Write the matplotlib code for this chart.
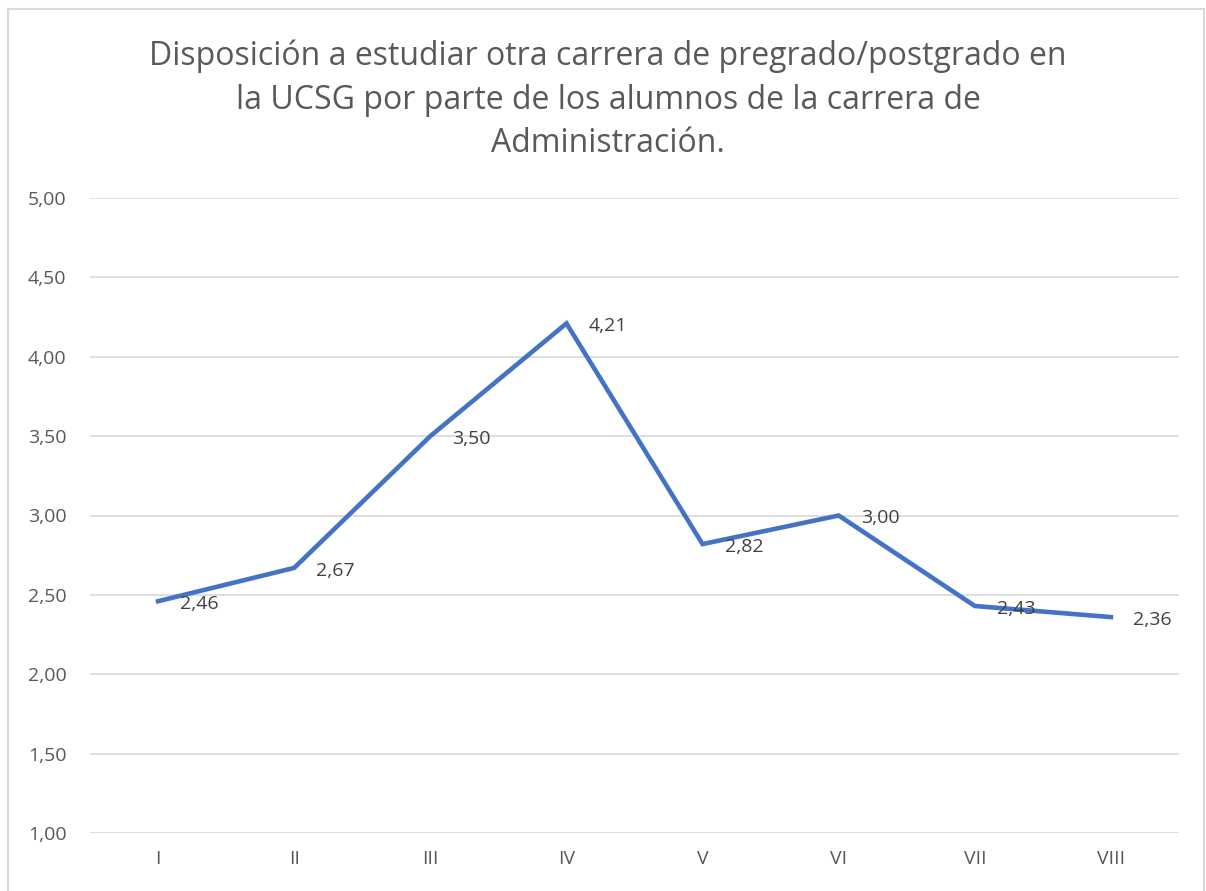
import matplotlib.pyplot as plt
from matplotlib.patches import Rectangle

semestres = ["I", "II", "III", "IV", "V", "VI", "VII", "VIII"]
disposicion = [2.46, 2.67, 3.50, 4.21, 2.82, 3.00, 2.43, 2.36]
ticks_y = [1.0, 1.5, 2.0, 2.5, 3.0, 3.5, 4.0, 4.5, 5.0]

plt.rcParams['font.family'] = ['Open Sans', 'DejaVu Sans']

W, H = 1206, 891
fig = plt.figure(figsize=(W / 100, H / 100), dpi=100)
fig.patch.set_facecolor('white')

# marco del gráfico
fig.add_artist(Rectangle((7.5 / W, -0.1), (1204 - 7.5) / W, (H - 8.5) / H + 0.1,
                         transform=fig.transFigure, fill=False,
                         edgecolor='#D9D9D9', linewidth=1.5))

left, right = 90 / W, 1179 / W
bottom, top = 1 - 833 / H, 1 - 198 / H
ax = fig.add_axes([left, bottom, right - left, top - bottom])

x = range(len(semestres))
ax.plot(x, disposicion, color='#4472C4', linewidth=3.3, solid_joinstyle='miter')

for xi, v in zip(x, disposicion):
    ax.annotate(f"{v:.2f}".replace('.', ','), (xi, v), xytext=(16, -2),
                textcoords='offset points', ha='left', va='center',
                fontsize=14, color='#404040')

ax.set_xlim(-0.5, len(semestres) - 0.5)
ax.set_ylim(1.0, 5.0)
ax.set_xticks(list(x))
ax.set_xticklabels(semestres)
ax.set_yticks(ticks_y)
ax.set_yticklabels([f"{t:.2f}".replace('.', ',') for t in ticks_y])
ax.tick_params(axis='both', length=0, labelsize=14, colors='#595959')
ax.tick_params(axis='y', pad=17)
ax.tick_params(axis='x', pad=12)
ax.grid(axis='y', color='#D9D9D9', linewidth=1.2)
ax.set_axisbelow(True)
for s in ax.spines.values():
    s.set_visible(False)

fig.text(608 / W, 1 - 100 / H,
         "Disposición a estudiar otra carrera de pregrado/postgrado en\n"
         "la UCSG por parte de los alumnos de la carrera de\n"
         "Administración.",
         ha='center', va='center', fontsize=23, color='#595959',
         linespacing=1.42)

fig.savefig('out.png', dpi=100, facecolor='white')
